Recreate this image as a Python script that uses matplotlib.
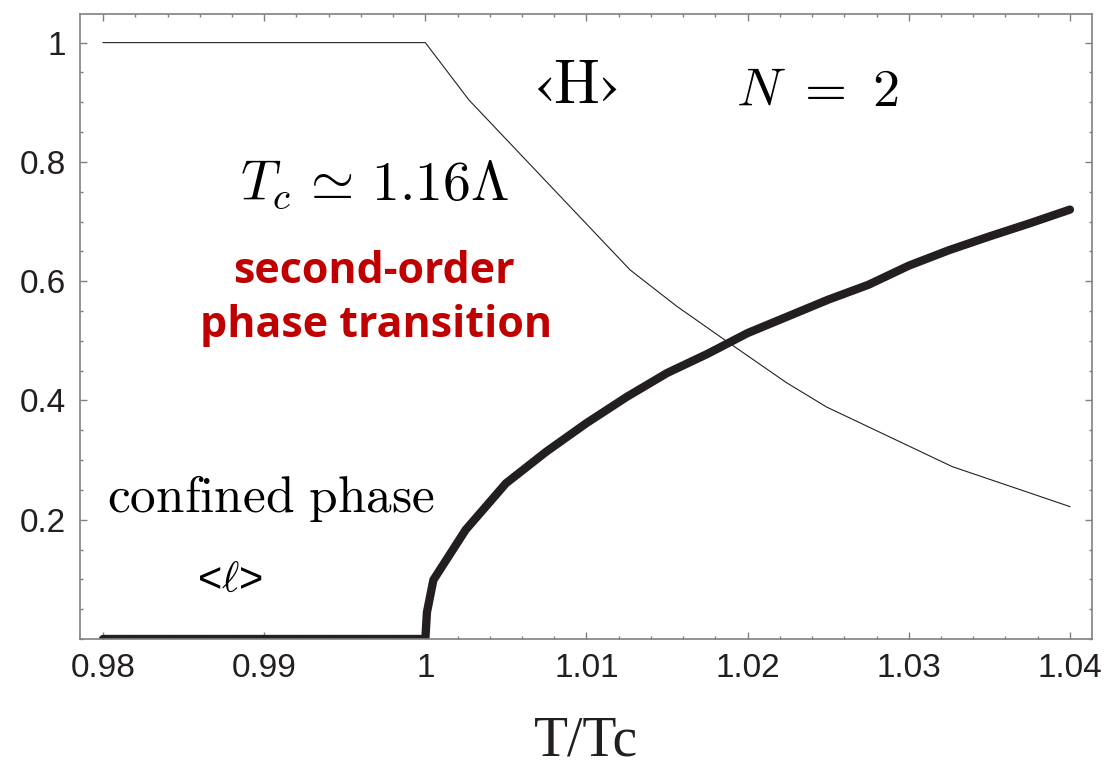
import matplotlib
matplotlib.use("Agg")
import matplotlib.pyplot as plt
from matplotlib.ticker import MultipleLocator

plt.rcParams['mathtext.fontset'] = 'cm'
plt.rcParams['font.family'] = ['Liberation Sans', 'DejaVu Sans']

# <l> : thick curve (order parameter)
t_l = [0.98, 1.0, 1.0001, 1.0005, 1.0025, 1.005, 1.0075, 1.01, 1.0125, 1.015,
       1.0175, 1.02, 1.0225, 1.025, 1.0275, 1.03, 1.0325, 1.035, 1.0375, 1.04]
l_val = [0.0, 0.0, 0.045, 0.099, 0.183, 0.261, 0.314, 0.362, 0.406, 0.446,
         0.478, 0.513, 0.541, 0.569, 0.594, 0.626, 0.652, 0.675, 0.697, 0.72]

# <H> : thin curve
t_h = [0.98, 1.0, 1.0027, 1.0127, 1.0156, 1.0185, 1.0224, 1.0249, 1.0327, 1.0375, 1.04]
h_val = [1.0, 1.0, 0.904, 0.619, 0.558, 0.503, 0.430, 0.389, 0.289, 0.245, 0.222]

xticks = [0.98, 0.99, 1.0, 1.01, 1.02, 1.03, 1.04]
xtick_labels = ['0.98', '0.99', '1', '1.01', '1.02', '1.03', '1.04']
yticks = [0.2, 0.4, 0.6, 0.8, 1.0]
ytick_labels = ['0.2', '0.4', '0.6', '0.8', '1']

W, H = 1105, 768
fig = plt.figure(figsize=(W/100, H/100), dpi=100)
ax = fig.add_axes([80/W, 1-639/H, 1012/W, 625/H])

ax.plot(t_h, h_val, color='#222222', lw=0.8)
ax.plot(t_l, l_val, color='#231f20', lw=6, solid_capstyle='round', solid_joinstyle='round')

ax.set_xlim(0.97857, 1.04137)
ax.set_ylim(0, 1.048)
ax.set_xticks(xticks)
ax.set_xticklabels(xtick_labels)
ax.set_yticks(yticks)
ax.set_yticklabels(ytick_labels)
ax.xaxis.set_minor_locator(MultipleLocator(0.002))
ax.yaxis.set_minor_locator(MultipleLocator(0.05))

frame = '#808080'
for s in ax.spines.values():
    s.set_color(frame)
    s.set_linewidth(1.2)
ax.tick_params(which='both', direction='in', top=True, right=True, color=frame, width=1)
ax.tick_params(which='major', length=5, labelsize=24, pad=10, labelcolor='#231f20')
ax.tick_params(which='minor', length=2.5)

ax.set_xlabel('T/Tc', family='Liberation Serif', fontsize=40, labelpad=23, color='#231f20')


def label(px, py, s, **kw):
    # px, py: pixel position from top-left of the picture
    fig.text(px/W, 1-py/H, s, ha='center', va='baseline', **kw)


label(375, 200, r'$T_c \,\simeq\, 1.16\Lambda$', fontsize=40)
label(575, 103, r'$\mathrm{‹H›}$', fontsize=44)
label(817, 106, r'$N\ =\ 2$', fontsize=39)
label(271, 512, r'$\mathrm{confined\ phase}$', fontsize=37)
label(230, 592, r'<$\ell$>', fontsize=30)
label(374, 283, 'second-order', fontsize=31, fontweight='bold', family='Open Sans', color='#c00000')
label(376, 337, 'phase transition', fontsize=31, fontweight='bold', family='Open Sans', color='#c00000')

fig.savefig('out.png', dpi=100)
